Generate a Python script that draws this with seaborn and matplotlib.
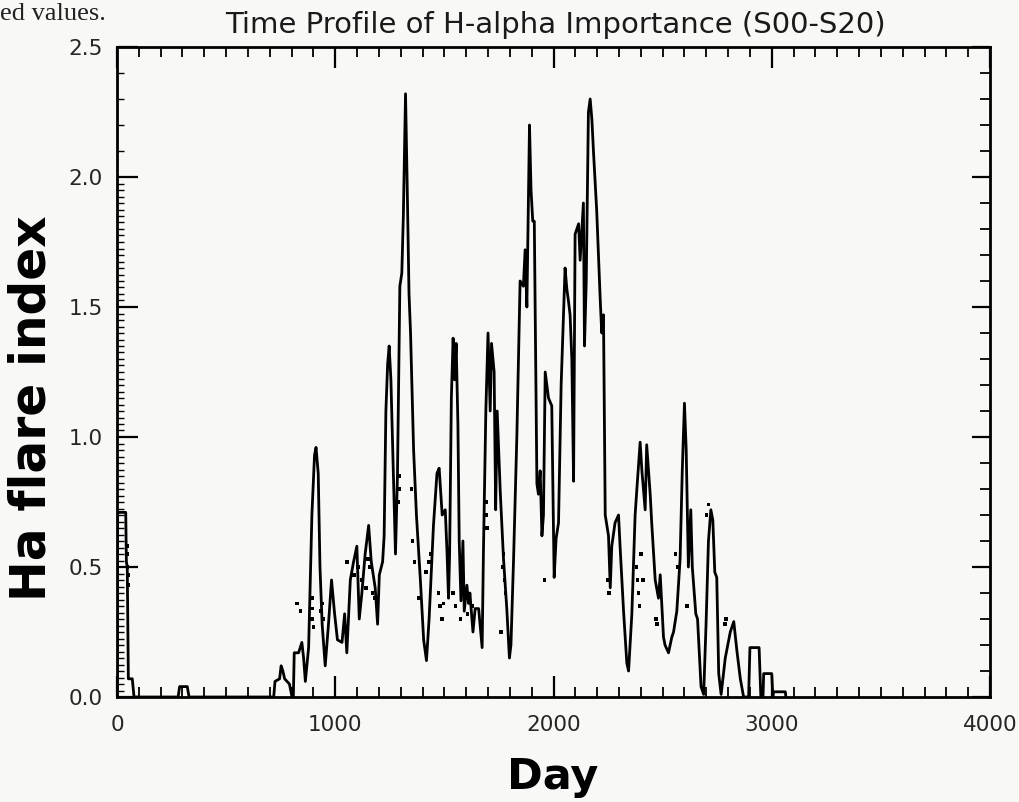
import matplotlib
matplotlib.use("Agg")
import matplotlib.pyplot as plt
from matplotlib.ticker import MultipleLocator, FixedLocator, NullFormatter
import seaborn as sns
import pandas as pd

# ---- data (smoothed curve) ----
days = [0, 3, 40, 43, 47, 52, 70, 78,
        280, 287, 322, 330,
        718, 724, 745, 752, 760, 768, 790, 802,
        808, 812, 832, 847, 855, 863, 878, 893, 905, 912, 922, 930, 940, 954,
        969, 983, 997, 1010, 1031, 1043, 1053, 1069, 1084, 1099, 1110, 1122,
        1137, 1153, 1165, 1183, 1194, 1202, 1217, 1224, 1232, 1240, 1247, 1255,
        1262, 1276, 1285, 1296, 1305, 1312, 1322, 1330, 1338, 1345, 1359, 1372,
        1390, 1405, 1418, 1430, 1450, 1466, 1476, 1490, 1504, 1512, 1519, 1524,
        1532, 1540, 1547, 1554, 1562, 1568, 1576, 1585, 1591, 1603, 1611, 1617,
        1631, 1641, 1657, 1673, 1679, 1690, 1700, 1710, 1716, 1728, 1735, 1742,
        1756, 1771, 1786, 1798, 1805, 1817, 1832, 1847, 1862, 1870, 1878, 1890,
        1897, 1905, 1912, 1924, 1931, 1939, 1947, 1954, 1962, 1977, 1992, 2003,
        2012, 2023, 2035, 2053, 2061, 2069, 2076, 2084, 2092, 2099, 2115, 2122,
        2137, 2142, 2150, 2160, 2168, 2176, 2183, 2198, 2214, 2221, 2229, 2237,
        2252, 2260, 2267, 2282, 2298, 2305, 2321, 2336, 2344, 2359, 2374, 2382,
        2397, 2405, 2420, 2427, 2443, 2450, 2466, 2481, 2489, 2504, 2511, 2527,
        2542, 2550, 2565, 2580, 2590, 2600, 2608, 2618, 2629, 2636, 2652, 2660,
        2676, 2688, 2699, 2710, 2721, 2730, 2739, 2748, 2757, 2768, 2787, 2810,
        2826, 2840, 2856, 2871, 2894, 2900, 2942, 2950, 2960, 2963, 3000, 3005,
        3008, 3062, 3065]
flare_index = [0.0, 0.71, 0.71, 0.52, 0.50, 0.07, 0.07, 0.0,
               0.0, 0.04, 0.04, 0.0,
               0.0, 0.06, 0.07, 0.12, 0.10, 0.07, 0.05, 0.0,
               0.0, 0.17, 0.17, 0.21, 0.15, 0.06, 0.19, 0.70, 0.93, 0.96, 0.86, 0.50, 0.28, 0.12,
               0.28, 0.45, 0.32, 0.22, 0.21, 0.32, 0.17, 0.45, 0.52, 0.58, 0.30, 0.40,
               0.55, 0.66, 0.52, 0.42, 0.28, 0.47, 0.52, 0.62, 1.10, 1.28, 1.35, 1.22,
               1.00, 0.55, 0.85, 1.58, 1.63, 1.85, 2.32, 1.95, 1.55, 1.40, 0.95, 0.70,
               0.45, 0.22, 0.14, 0.30, 0.66, 0.86, 0.88, 0.70, 0.72, 0.56, 0.38, 0.55,
               1.15, 1.38, 1.22, 1.36, 1.05, 0.60, 0.37, 0.60, 0.33, 0.43, 0.36, 0.40,
               0.25, 0.34, 0.34, 0.19, 0.56, 1.10, 1.40, 1.10, 1.36, 1.25, 0.72, 1.10,
               0.79, 0.53, 0.34, 0.15, 0.20, 0.53, 1.00, 1.60, 1.58, 1.72, 1.50, 2.20,
               1.95, 1.83, 1.83, 0.82, 0.78, 0.87, 0.62, 0.70, 1.25, 1.15, 1.12, 0.46,
               0.61, 0.67, 1.20, 1.65, 1.57, 1.52, 1.47, 1.30, 0.83, 1.78, 1.82, 1.68,
               1.90, 1.35, 1.60, 2.25, 2.30, 2.22, 2.10, 1.87, 1.53, 1.40, 1.47, 0.70,
               0.62, 0.42, 0.58, 0.67, 0.70, 0.58, 0.33, 0.13, 0.10, 0.32, 0.70, 0.80,
               0.98, 0.87, 0.72, 0.97, 0.78, 0.67, 0.45, 0.38, 0.47, 0.23, 0.20, 0.17,
               0.23, 0.25, 0.33, 0.53, 0.87, 1.13, 0.95, 0.50, 0.72, 0.50, 0.32, 0.30,
               0.04, 0.01, 0.28, 0.60, 0.72, 0.68, 0.48, 0.46, 0.09, 0.01, 0.15, 0.25,
               0.29, 0.18, 0.07, 0.0, 0.0, 0.19, 0.19, 0.0, 0.0, 0.09, 0.09, 0.0,
               0.02, 0.02, 0.0]

# ---- scattered raw values (dots) ----
dot_days = [45, 47, 48, 50, 50, 825, 840, 893, 895, 897, 900, 935, 940, 945,
            1053, 1085, 1105, 1120, 1140, 1150, 1160, 1170, 1180,
            1290, 1292, 1295, 1350, 1355, 1363, 1382,
            1415, 1430, 1436, 1474, 1480, 1489, 1495, 1540, 1550, 1575, 1596,
            1605, 1630, 1690, 1692, 1695, 1760, 1765, 1771, 1775, 1780, 1960,
            2250, 2255, 2380, 2385, 2390, 2395, 2400, 2410, 2470, 2475, 2560,
            2570, 2612, 2700, 2710, 2785, 2790]
dot_vals = [0.58, 0.55, 0.50, 0.47, 0.43, 0.36, 0.33, 0.30, 0.34, 0.38, 0.27, 0.33, 0.36, 0.30,
            0.52, 0.47, 0.50, 0.45, 0.42, 0.53, 0.50, 0.40, 0.38,
            0.75, 0.80, 0.85, 0.80, 0.60, 0.52, 0.38,
            0.48, 0.52, 0.55, 0.40, 0.35, 0.30, 0.36, 0.40, 0.35, 0.30, 0.40,
            0.32, 0.35, 0.75, 0.70, 0.65, 0.25, 0.50, 0.55, 0.45, 0.40, 0.45,
            0.45, 0.40, 0.50, 0.45, 0.40, 0.35, 0.55, 0.45, 0.30, 0.28, 0.55,
            0.50, 0.35, 0.70, 0.74, 0.28, 0.30]

x_ticks = [0, 1000, 2000, 3000, 4000]
y_ticks = [0.0, 0.5, 1.0, 1.5, 2.0, 2.5]
title_text = "Time Profile of H-alpha Importance (S00-S20)"
x_label = "Day"
y_label = "Ha flare index"

sns.set_theme(style="ticks")
plt.rcParams["font.family"] = ["DejaVu Sans"]

curve = pd.DataFrame({"day": days, "value": flare_index})
dots = pd.DataFrame({"day": dot_days, "value": dot_vals})

bg = "#f8f8f6"
fig = plt.figure(figsize=(10.19, 8.02), dpi=100, facecolor=bg)
ax = fig.add_axes([117 / 1019, 1 - 697 / 802, (990 - 117) / 1019, (697 - 47) / 802])
ax.set_facecolor(bg)

sns.lineplot(data=curve, x="day", y="value", ax=ax, color="black", linewidth=2.0,
             estimator=None, sort=False)
sns.scatterplot(data=dots, x="day", y="value", ax=ax, color="black", s=6,
                edgecolor="none", marker="s")

ax.set_xlim(0, 4000)
ax.set_ylim(0, 2.5)
ax.set_xticks(x_ticks)
ax.set_xticklabels([str(t) for t in x_ticks])
ax.set_yticks(y_ticks)
ax.set_yticklabels([f"{t:.1f}" for t in y_ticks])
ax.xaxis.set_minor_locator(MultipleLocator(100))
# dense ruler-like minor ticks on the left side below 2.0, sparser above
left_minor = [i * 0.025 for i in range(0, 81)] + [2.1, 2.2, 2.3, 2.4]
ax.yaxis.set_minor_locator(FixedLocator(left_minor))
ax.tick_params(which="both", direction="in", top=True, right=False, color="black")
ax.tick_params(which="major", length=15, width=1.6)
ax.tick_params(axis="x", which="minor", length=7, width=1.3)
ax.tick_params(axis="y", which="minor", length=5, width=1.0)
ax.tick_params(axis="x", which="major", labelsize=15.5, pad=13)
ax.tick_params(axis="y", which="major", labelsize=15.5, pad=10)
for sp in ax.spines.values():
    sp.set_linewidth(2.0)
    sp.set_color("black")
ax.set_xlabel("")
ax.set_ylabel("")

# right-hand axis ticks (0.1 minor, 0.5 major)
ax2 = ax.twinx()
ax2.set_ylim(0, 2.5)
ax2.set_yticks(y_ticks)
ax2.yaxis.set_minor_locator(MultipleLocator(0.1))
ax2.yaxis.set_major_formatter(NullFormatter())
ax2.tick_params(axis="y", which="both", direction="in", right=True, left=False, color="black")
ax2.tick_params(axis="y", which="major", length=13, width=1.6)
ax2.tick_params(axis="y", which="minor", length=7, width=1.3)
for sp in ax2.spines.values():
    sp.set_visible(False)

fig.text(555 / 1019, 1 - 25 / 802, title_text, ha="center", va="center",
         fontsize=21, color="#1a1a1a")
fig.text(553 / 1019, 1 - 777 / 802, x_label, ha="center", va="center",
         fontsize=31, fontweight="bold", color="black")
fig.text(32 / 1019, 1 - 408 / 802, y_label, ha="center", va="center",
         rotation=90, fontsize=35, fontweight="bold", color="black")
fig.text(0.0, 1 - 14 / 802, "ed values.", ha="left", va="center",
         fontsize=19, family=["Liberation Serif", "DejaVu Serif"], color="#222222")

fig.savefig("out.png", dpi=100, facecolor=bg)
